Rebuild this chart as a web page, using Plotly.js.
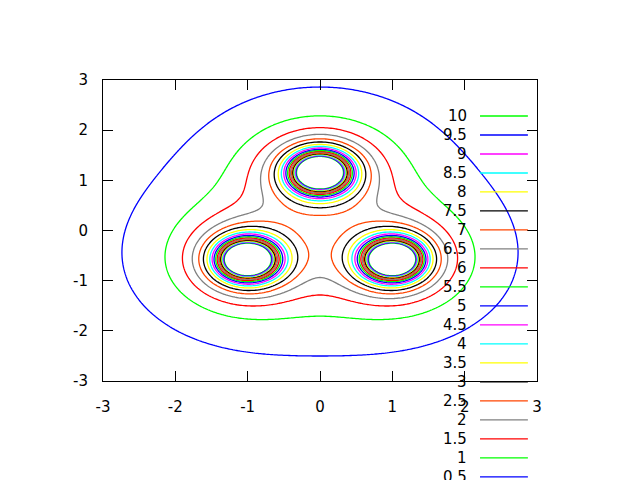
<!DOCTYPE html>
<html>
<head>
<meta charset="utf-8">
<script src="https://cdn.plot.ly/plotly-3.0.1.min.js"></script>
<style>html,body{margin:0;padding:0;background:#fff;}#chart{width:640px;height:480px;}</style>
</head>
<body>
<div id="chart"></div>
<script>
// Point sources of the plotted field z = sum 1/r^2
const sourceX = [0, -1, 1];
const sourceY = [1.1547, -0.5774, -0.5774];
const gridMin = -3, gridMax = 3, gridN = 241;

// Contour levels (legend order) and their colours
const levels = [10, 9.5, 9, 8.5, 8, 7.5, 7, 6.5, 6, 5.5, 5, 4.5, 4, 3.5, 3, 2.5, 2, 1.5, 1, 0.5];
const levelLabels = ['10', '9.5', '9', '8.5', '8', '7.5', '7', '6.5', '6', '5.5', '5', '4.5', '4', '3.5', '3', '2.5', '2', '1.5', '1', '0.5'];
const levelColors = ['#00ff00', '#0000ff', '#ff00ff', '#00ffff', '#ffff00', '#000000', '#ff4500', '#808080', '#ff0000',
                     '#00ff00', '#0000ff', '#ff00ff', '#00ffff', '#ffff00', '#000000', '#ff4500', '#808080', '#ff0000',
                     '#00ff00', '#0000ff'];
const tickVals = [-3, -2, -1, 0, 1, 2, 3];

const gx = [], gy = [];
for (let i = 0; i < gridN; i++) {
  const v = gridMin + (gridMax - gridMin) * i / (gridN - 1);
  gx.push(v); gy.push(v);
}
const gz = gy.map(y => gx.map(x => {
  let s = 0;
  for (let k = 0; k < sourceX.length; k++) {
    const r2 = (x - sourceX[k]) ** 2 + (y - sourceY[k]) ** 2;
    s += 1 / Math.max(r2, 1e-6);
  }
  return Math.min(s, 1e4);
}));

const traces = levels.map((L, i) => ({
  type: 'contour', x: gx, y: gy, z: gz,
  autocontour: false,
  contours: {start: L, end: L, size: 1, coloring: 'none', showlabels: false},
  line: {color: levelColors[i], width: 1.3, smoothing: 0},
  showscale: false, showlegend: false, hoverinfo: 'skip', name: levelLabels[i]
}));

const font = {family: 'DejaVu Sans', size: 15, color: '#000'};
const annotations = [], shapes = [];
const key = {textX: 0.8433, lineX0: 0.8687, lineX1: 0.979, y0: 0.8804, dy: 0.0631};
levels.forEach((L, i) => {
  const y = key.y0 - i * key.dy;
  annotations.push({xref: 'paper', yref: 'paper', x: key.textX, y: y, text: levelLabels[i],
    showarrow: false, xanchor: 'right', yanchor: 'middle', font: font});
  shapes.push({type: 'line', xref: 'paper', yref: 'paper', x0: key.lineX0, x1: key.lineX1, y0: y, y1: y,
    line: {color: levelColors[i], width: 1.3}});
});

const axisCommon = {
  range: [-3, 3], tickvals: tickVals, ticktext: tickVals.map(String),
  ticks: 'inside', ticklen: 10, tickwidth: 1, tickcolor: '#000',
  showline: true, linecolor: '#000', linewidth: 1, mirror: 'allticks',
  showgrid: false, zeroline: false, tickfont: font
};

const layout = {
  width: 640, height: 480,
  margin: {l: 103, r: 103, t: 80, b: 99, pad: 0},
  paper_bgcolor: '#fff', plot_bgcolor: '#fff',
  xaxis: Object.assign({}, axisCommon, {ticklabelstandoff: 12}),
  yaxis: Object.assign({}, axisCommon, {ticklabelstandoff: 11}),
  annotations: annotations, shapes: shapes, showlegend: false
};

Plotly.newPlot('chart', traces, layout, {staticPlot: true});
</script>
</body>
</html>
